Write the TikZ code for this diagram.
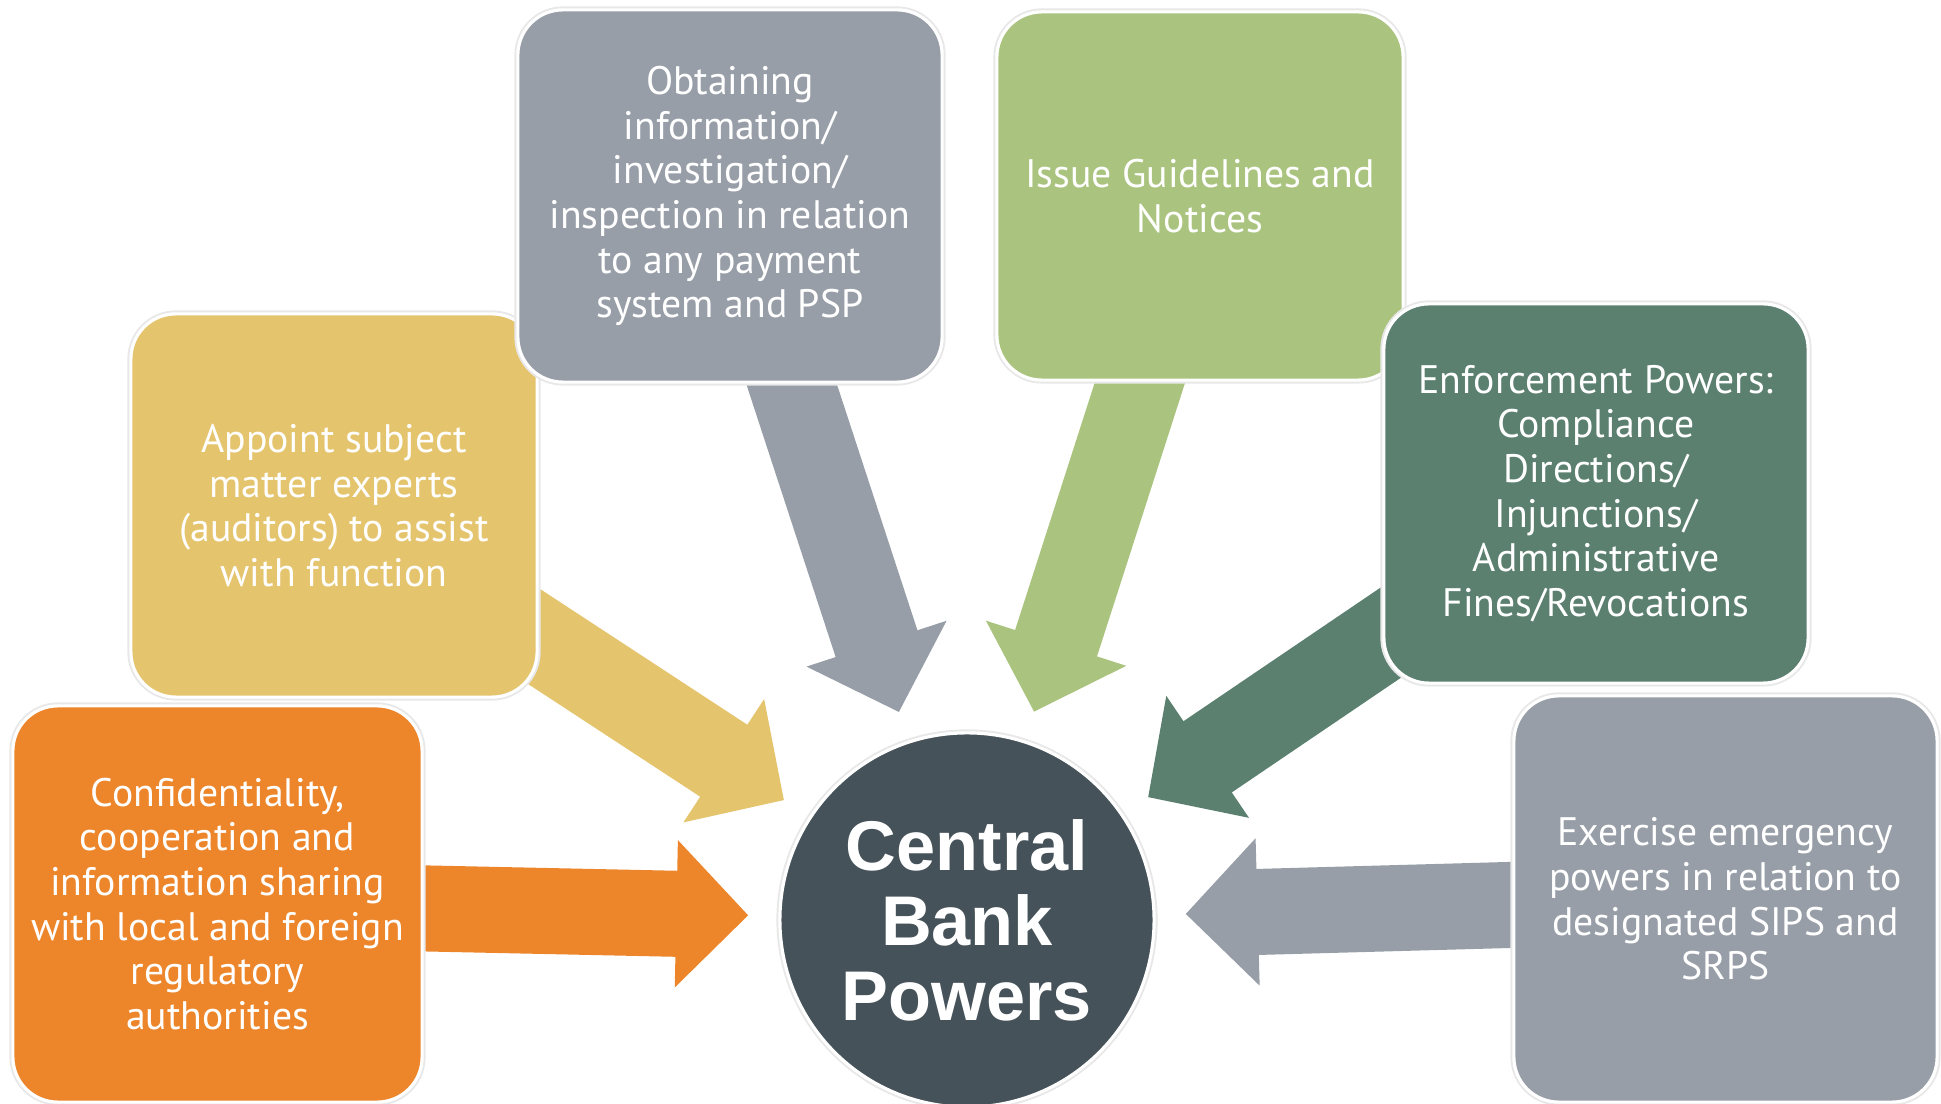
\documentclass[tikz,border=0pt]{standalone}
\usepackage{fontspec}
\setmainfont{PT Sans}
\newfontfamily\hubfont{Liberation Sans}
\usetikzlibrary{arrows.meta,backgrounds}

\definecolor{cbOrange}{HTML}{ED852A}
\definecolor{cbYellow}{HTML}{E5C46E}
\definecolor{cbGray}{HTML}{979EA7}
\definecolor{cbGreen}{HTML}{AAC47F}
\definecolor{cbDark}{HTML}{5B8070}
\definecolor{cbHub}{HTML}{465259}

\begin{document}
\begin{tikzpicture}[x=0.01cm, y=-0.01cm,
	halo/.style={draw=white, line width=0.9pt, preaction={draw=black!9, line width=2pt}},
	power/.style={halo, rounded corners=0.45cm, inner sep=0pt, text=white, align=center,
		font=\fontsize{11.3}{12.7}\selectfont},
	feed/.style={line width=0.86cm, -{Triangle[width=1.43cm,length=0.72cm]}, shorten >=0.3cm}]
	\useasboundingbox (0,0) rectangle (1941,1104);

	\node at (217.5,904) [power, fill=cbOrange, minimum width=4.09cm, minimum height=3.96cm] (conf) {Confidentiality,\\cooperation and\\information sharing\\with local and foreign\\regulatory\\authorities};
	\node at (334,505.5) [power, fill=cbYellow, minimum width=4.06cm, minimum height=3.83cm] (appoint) {Appoint subject\\matter experts\\(auditors) to assist\\with function};
	\node at (730,196) [power, fill=cbGray, minimum width=4.24cm, minimum height=3.72cm] (obtain) {Obtaining\\information/\\investigation/\\inspection in relation\\to any payment\\system and PSP};
	\node at (1200,196) [power, fill=cbGreen, minimum width=4.06cm, minimum height=3.68cm] (issue) {Issue Guidelines and\\Notices};
	\node at (1596,493.5) [power, fill=cbDark, minimum width=4.24cm, minimum height=3.79cm] (enforce) {Enforcement Powers:\\Compliance\\Directions/\\Injunctions/\\Administrative\\Fines/Revocations};
	\node at (1725.5,899) [power, fill=cbGray, minimum width=4.23cm, minimum height=4.06cm] (emerg) {Exercise emergency\\powers in relation to\\designated SIPS and\\SRPS};

	\node at (967,920) [circle, halo, fill=cbHub, minimum size=3.74cm, inner sep=0pt, text=white, align=center,
		font=\hubfont\bfseries\fontsize{20}{21.3}\selectfont] (hub) {Central\\Bank\\Powers};

	\begin{scope}[on background layer]
		\draw [feed, cbOrange] (conf.center) -- (hub);
		\draw [feed, cbYellow] (appoint.center) -- (hub);
		\draw [feed, cbGray] (obtain.center) -- (hub);
		\draw [feed, cbGreen] (issue.center) -- (hub);
		\draw [feed, cbDark] (enforce.center) -- (hub);
		\draw [feed, cbGray] (emerg.center) -- (hub);
	\end{scope}
\end{tikzpicture}
\end{document}
